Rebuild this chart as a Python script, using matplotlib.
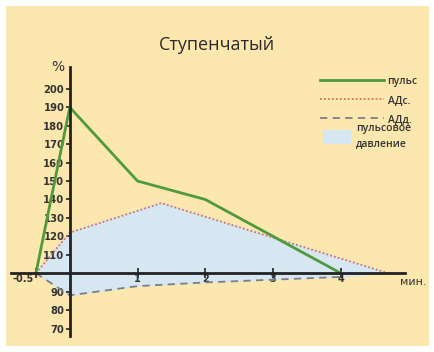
import matplotlib.pyplot as plt
import matplotlib.transforms as mtransforms
from matplotlib.lines import Line2D
from matplotlib.patches import Patch

# данные (мин., %)
t_puls = [-0.5, 0, 1, 2, 4]
puls = [100, 190, 150, 140, 100]

t_sys = [-0.5, 0, 1.35, 4.7]
ad_sys = [100, 122, 138, 100]

t_dia = [-0.5, 0, 1, 2, 3, 4]
ad_dia = [100, 88, 93, 95, 96.5, 98]

y_ticks = [70, 80, 90, 110, 120, 130, 140, 150, 160, 170, 180, 190, 200]
x_ticks = [-0.5, 1, 2, 3, 4]
x_labels = ["-0.5", "1", "2", "3", "4"]

bg = "#FCE7AE"
fig = plt.figure(figsize=(4.35, 3.52), dpi=100, facecolor="white")
ax = fig.add_axes([0.014, 0.017, 0.972, 0.966])
ax.set_facecolor(bg)
ax.set_xlim(-0.94, 5.3)
ax.set_ylim(60.5, 245)

# пульсовое давление
ax.fill(t_sys + t_dia[::-1], ad_sys + ad_dia[::-1], color="#D6E7F1", zorder=1)

ax.plot(t_sys, ad_sys, color="#D2706A", lw=1.3, ls=(0, (1, 1.2)), zorder=3)
ax.plot(t_dia, ad_dia, color="#7E7E86", lw=1.3, ls=(0, (4, 3)), zorder=3)
ax.plot(t_puls, puls, color="#4E9A3C", lw=2, zorder=4)

# оси
for s in ["top", "right"]:
    ax.spines[s].set_visible(False)
ax.spines["left"].set_position(("data", 0))
ax.spines["left"].set_bounds(66, 212)
ax.spines["bottom"].set_position(("data", 100))
ax.spines["bottom"].set_bounds(-0.87, 4.95)
for s in ["left", "bottom"]:
    ax.spines[s].set_linewidth(2)
    ax.spines[s].set_color("#222222")
    ax.spines[s].set_zorder(5)

ax.set_yticks(y_ticks)
ax.set_yticklabels([str(v) for v in y_ticks], fontsize=7.2, fontweight="bold", color="#333333")
ax.tick_params(axis="y", direction="out", length=3, width=1.2, pad=1, color="#222222")
ax.set_xticks(x_ticks)
ax.set_xticklabels(x_labels, fontsize=7, fontweight="bold", color="#333333")
ax.tick_params(axis="x", direction="inout", length=7, width=1.2, pad=-3, color="#222222")
# сдвиг подписи -0.5 влево, как в оригинале
lbl = ax.get_xticklabels()[0]
lbl.set_transform(lbl.get_transform() + mtransforms.ScaledTranslation(-0.13, 0, fig.dpi_scale_trans))

ax.text(-0.08, 208, "%", fontsize=10, color="#333333", ha="right", va="bottom")
ax.text(4.87, 95.5, "мин.", fontsize=8, color="#333333", ha="left", va="center")
ax.set_title("Ступенчатый", fontsize=13, color="#2b2b2b", y=0.845, family="Open Sans")

font = {"family": "Open Sans", "size": 7.5, "weight": "semibold"}
line_handles = [
    Line2D([], [], color="#4E9A3C", lw=2),
    Line2D([], [], color="#D2706A", lw=1.3, ls=(0, (1, 1.2))),
    Line2D([], [], color="#7E7E86", lw=1.3, ls=(0, (4, 3))),
]
leg1 = ax.legend(line_handles, ["пульс", "АДс.", "АДд."], loc="upper left",
                 bbox_to_anchor=(0.742, 0.794), frameon=False, prop=font,
                 handlelength=6.2, handletextpad=0.3, labelspacing=0.75,
                 labelcolor="#333333", borderpad=0, borderaxespad=0)
ax.add_artist(leg1)
leg2 = ax.legend([Patch(facecolor="#D6E7F1", edgecolor="none")], ["пульсовое\nдавление"],
                 loc="upper left", bbox_to_anchor=(0.749, 0.655), frameon=False, prop=font,
                 handlelength=2.7, handleheight=1.6, handletextpad=0.5,
                 labelcolor="#333333", borderpad=0, borderaxespad=0)
for txt in leg2.get_texts():
    txt.set_linespacing(1.5)

fig.savefig("out.png", dpi=100, facecolor="white")
